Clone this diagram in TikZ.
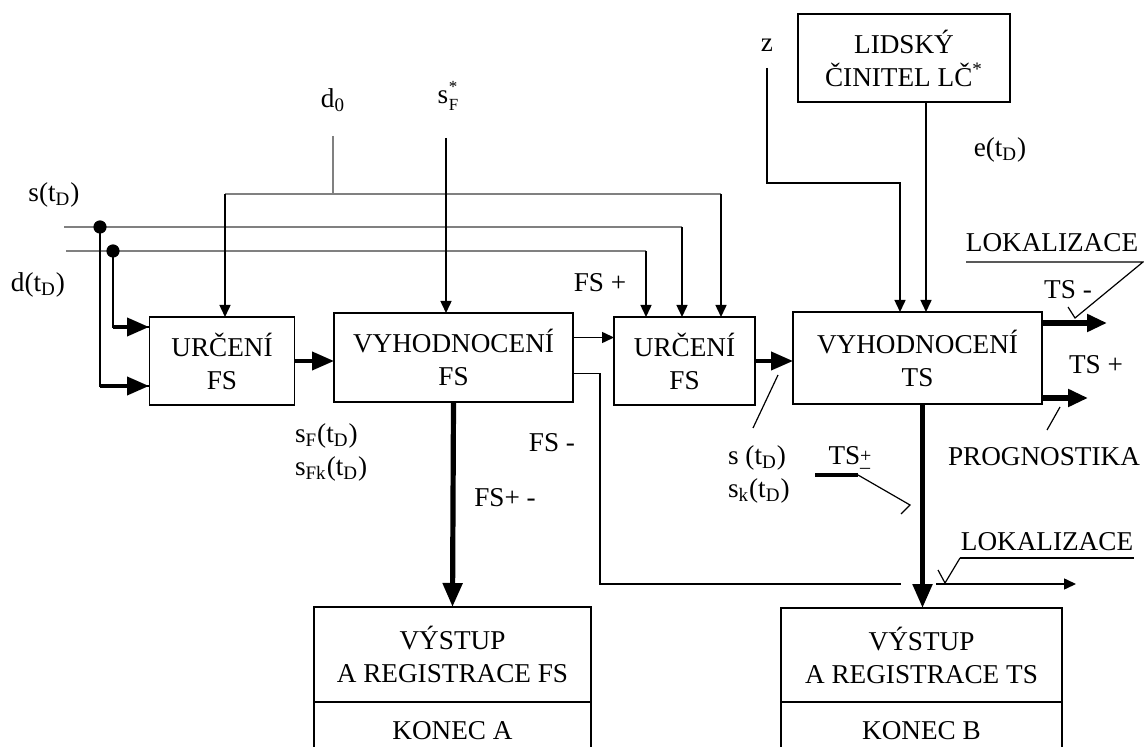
\documentclass[tikz,border=0pt]{standalone}
\usepackage{fontspec}
\setmainfont{Liberation Serif}
\usetikzlibrary{arrows.meta,positioning}

\begin{document}
\begin{tikzpicture}[x=0.5pt,y=-0.5pt,
  every node/.style={font=\fontsize{13.6}{16.5}\selectfont},
  box/.style={draw, line width=0.75pt, align=center, inner sep=0pt, outer sep=0pt},
  bus/.style={black!50, line width=0.75pt},
  arr/.style={-{Triangle[length=6pt,width=5.5pt]}, line width=0.75pt},
  thk/.style={-{Triangle[length=11pt,width=9pt]}, line width=2pt},
  vthk/.style={-{Triangle[length=12pt,width=9.5pt]}, line width=2.6pt},
  note/.style={line width=0.6pt}]
\useasboundingbox (0,0) rectangle (1144,747);
\clip (0,0) rectangle (1144,747);

% boxes
\node[box, minimum width=72.5pt, minimum height=44pt] (urcA) at (222,361) {URČENÍ\\FS};
\node[box, minimum width=119.5pt, minimum height=44.5pt] (vyhFS) at (453.5,357.5) {VYHODNOCENÍ\\FS};
\node[box, minimum width=70.5pt, minimum height=44pt] (urcB) at (684.5,361) {URČENÍ\\FS};
\node[box, minimum width=124.5pt, minimum height=46pt] (vyhTS) at (917.5,358) {VYHODNOCENÍ\\TS};
\node[box, minimum width=106pt, minimum height=44pt] (lidsky) at (904,58) {LIDSKÝ\\ČINITEL LČ\textsuperscript{*}};
\node[box, minimum width=138.5pt, minimum height=47.5pt] (vystFS) at (452.5,654.5) {VÝSTUP\\A REGISTRACE FS};
\node[box, minimum width=138.5pt, minimum height=29pt, below=0pt of vystFS] (konecA) {KONEC A};
\node[box, minimum width=140.5pt, minimum height=47pt] (vystTS) at (921.5,655) {VÝSTUP\\A REGISTRACE TS};
\node[box, minimum width=140.5pt, minimum height=29pt, below=0pt of vystTS] (konecB) {KONEC B};

% labels
\node (lblS) at (54,195) {s(t\textsubscript{D})};
\node (lblD) at (38,285) {d(t\textsubscript{D})};
\node (lblD0) at (333,100) {d\textsubscript{0}};
\node (lblSF) at (448,96) {s\kern0.3pt\raisebox{-0.5ex}{\fontsize{8.5}{9}\selectfont\shortstack[l]{*\\F}}};
\node (lblZ) at (767,45) {z};
\node (lblE) at (1000,150) {e(t\textsubscript{D})};
\node (lblFSp) at (600,283) {FS +};
\node (lblFSm) at (552,443) {FS -};
\node (lblFSpm) at (505,498) {FS+ -};
\node[anchor=west, align=left] (lblSF2) at (288,452) {s\textsubscript{F}(t\textsubscript{D})\\s\textsubscript{Fk}(t\textsubscript{D})};
\node[anchor=west, align=left] (lblSK) at (721,474) {s (t\textsubscript{D})\\s\textsubscript{k}(t\textsubscript{D})};
\node (lblTSpm) at (850,460) {TS\raisebox{-0.8ex}{\fontsize{10}{10}\selectfont\shortstack[l]{+\\–}}};
\node (lblTSm) at (1068,290) {TS -};
\node (lblTSp) at (1096,365) {TS +};
\node (lblProg) at (1044,457) {PROGNOSTIKA};
\node (lblLok1) at (1052,243) {LOKALIZACE};
\node (lblLok2) at (1047,542) {LOKALIZACE};

% input buses
\coordinate (sA) at (64,227);   \coordinate (sB) at (682,227);
\coordinate (dA) at (66,251);   \coordinate (dB) at (646,251);
\coordinate (d0top) at (333,136); \coordinate (d0j) at (333,194);
\coordinate (d0L) at (225,194); \coordinate (d0R) at (721,194);
\coordinate (dot1) at (100,227); \coordinate (dot2) at (113,251);
\coordinate (in1) at (149,386); \coordinate (in2) at (149,327);
\coordinate (sFtop) at (446,138);

\draw[bus] (sA) -- (sB);
\draw[bus] (dA) -- (dB);
\draw[bus] (d0top) -- (d0j);
\draw[bus] (d0L) -- (d0R);
\draw[arr] (sB) -- (sB |- urcB.north);
\draw[arr] (dB) -- (dB |- urcB.north);
\draw[arr] (d0R) -- (d0R |- urcB.north);
\draw[arr] (d0L) -- (d0L |- urcA.north);
\draw[arr] (sFtop) -- (sFtop |- vyhFS.north);
\fill (dot1) circle (3.3pt);
\fill (dot2) circle (3.3pt);
\draw[line width=1pt] (dot1) |- (in1);
\draw[line width=1pt] (dot2) |- (in2);
\draw[thk] (dot1 |- in1) -- (in1);
\draw[thk] (dot2 |- in2) -- (in2);

% main chain
\draw[thk] (urcA.east) -- (urcA.east -| vyhFS.west);
\draw[arr] ([yshift=10pt]vyhFS.east) -- ([yshift=10pt]vyhFS.east -| urcB.west);
\draw[thk] (urcB.east) -- (urcB.east -| vyhTS.west);
\draw[vthk] (vyhFS.south) -- (vystFS.north);
\draw[vthk] ([xshift=2.5pt]vyhTS.south) -- ([xshift=2.5pt]vyhTS.south |- vystTS.north);
\draw[-{Triangle[length=10pt,width=8.5pt]}, line width=3pt] ([yshift=17.5pt]vyhTS.east) -- ++(65,0);
\draw[-{Triangle[length=10pt,width=8.5pt]}, line width=3pt] ([yshift=-20pt]vyhTS.east) -- ++(46,0);

% FS- path
\coordinate (fsm) at (600,584); \coordinate (gapL) at (901,584);
\coordinate (gapR) at (936,584); \coordinate (lokEnd) at (1076,584);
\draw[line width=0.75pt] ([yshift=-8pt]vyhFS.east) -| (fsm) -- (gapL);
\draw[arr] (gapR) -- (lokEnd);

% z and human factor
\coordinate (ztop) at (767,68); \coordinate (zc) at (900,183);
\draw[arr] (ztop) |- (zc) -- (zc |- vyhTS.north);
\draw[arr] ([xshift=11pt]lidsky.south) -- ([xshift=11pt]lidsky.south |- vyhTS.north);

% callouts
\draw[note] (778,375) -- (753,428);
\draw[line width=1.6pt] (815,475) -- (858,475);
\draw[note] (858,475) -- (910,505) -- (901,514);
\draw[note] (966,262) -- (1143,262) -- (1075,318) -- (1068,307);
\draw[note] (960,558) -- (1134,558);
\draw[note] (960,558) -- (945,583) -- (938,570);
\draw[note] (1060,407) -- (1047,430);
\end{tikzpicture}
\end{document}
